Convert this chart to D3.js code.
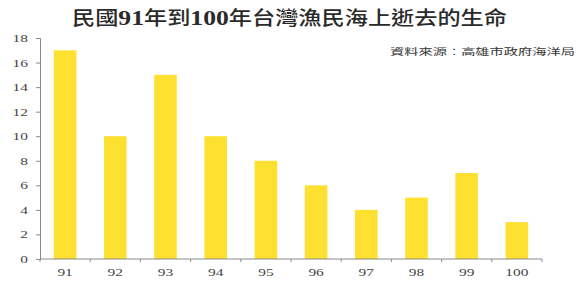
<!DOCTYPE html>
<html>
<head>
<meta charset="utf-8">
<script src="https://cdn.jsdelivr.net/npm/d3@7"></script>
<style>
  body { margin: 0; background: #fff; }
  svg { display: block; }
</style>
</head>
<body>
<svg class="chart" width="587" height="283"></svg>
<script>
const years = ["91", "92", "93", "94", "95", "96", "97", "98", "99", "100"];
const deaths = [17, 10, 15, 10, 8, 6, 4, 5, 7, 3];
const yTicks = [0, 2, 4, 6, 8, 10, 12, 14, 16, 18];

const titleParts = ["民國", "91", "年到", "100", "年台灣漁民海上逝去的生命"];
const sourceText = "資料來源：高雄市政府海洋局";

const svg = d3.select('.chart');
const margin = { top: 38, right: 45, bottom: 24, left: 40 };
const width = 587 - margin.left - margin.right;
const height = 283 - margin.top - margin.bottom;
const stretch = 1.4; // the picture looks widened, so text is too

const serif = "'Liberation Serif', 'DejaVu Serif', serif";
const cjk = "'Noto Sans CJK TC', 'Noto Sans CJK SC', sans-serif";

const g = svg.append('g')
  .attr('transform', `translate(${margin.left},${margin.top})`);

const xScale = d3.scaleBand()
  .domain(years)
  .range([0, width])
  .paddingInner(0.55)
  .paddingOuter(0.275);

const yScale = d3.scaleLinear()
  .domain([0, 18])
  .range([height, 0]);

// bars
g.selectAll('rect.bar')
  .data(years)
  .join('rect')
  .attr('class', 'bar')
  .attr('x', d => xScale(d))
  .attr('width', xScale.bandwidth())
  .attr('y', (d, i) => yScale(deaths[i]))
  .attr('height', (d, i) => height - yScale(deaths[i]))
  .attr('fill', '#FDE030');

// y axis
const yAxis = g.append('g')
  .call(d3.axisLeft(yScale).tickValues(yTicks).tickSize(4).tickPadding(8));
yAxis.select('.domain').attr('stroke', '#8a8a8a');
yAxis.selectAll('.tick line').attr('stroke', '#8a8a8a');
yAxis.selectAll('.tick text')
  .attr('font-family', serif)
  .attr('font-size', 11)
  .attr('fill', '#444')
  .attr('x', -12 / stretch)
  .attr('transform', `scale(${stretch},1)`);

// x axis: ticks sit between categories
const bounds = d3.range(years.length + 1).map(i => i * width / years.length);
const xAxis = g.append('g').attr('transform', `translate(0,${height})`);
xAxis.append('line')
  .attr('x1', 0).attr('x2', width)
  .attr('stroke', '#8a8a8a');
xAxis.selectAll('line.tk')
  .data(bounds)
  .join('line')
  .attr('class', 'tk')
  .attr('x1', d => d).attr('x2', d => d)
  .attr('y1', 0).attr('y2', 3)
  .attr('stroke', '#8a8a8a');
xAxis.selectAll('text')
  .data(years)
  .join('text')
  .attr('transform', d => `translate(${xScale(d) + xScale.bandwidth() / 2},17) scale(${stretch},1)`)
  .attr('text-anchor', 'middle')
  .attr('font-family', serif)
  .attr('font-size', 11)
  .attr('fill', '#444')
  .text(d => d);

// title: serif bold digits, CJK in regular weight
const title = svg.append('text')
  .attr('x', 72)
  .attr('y', 25)
  .attr('font-size', 19)
  .attr('fill', '#2a2a2a')
  .attr('textLength', 435)
  .attr('lengthAdjust', 'spacingAndGlyphs');
title.selectAll('tspan')
  .data(titleParts)
  .join('tspan')
  .attr('font-family', d => /\d/.test(d) ? serif : cjk)
  .attr('font-weight', d => /\d/.test(d) ? 'bold' : 500)
  .attr('font-size', d => /\d/.test(d) ? 21 : 19)
  .text(d => d);

// source note
svg.append('text')
  .attr('x', 390)
  .attr('y', 55)
  .attr('font-family', cjk)
  .attr('font-size', 9)
  .attr('fill', '#333')
  .attr('textLength', 185)
  .attr('lengthAdjust', 'spacingAndGlyphs')
  .text(sourceText);
</script>
</body>
</html>
